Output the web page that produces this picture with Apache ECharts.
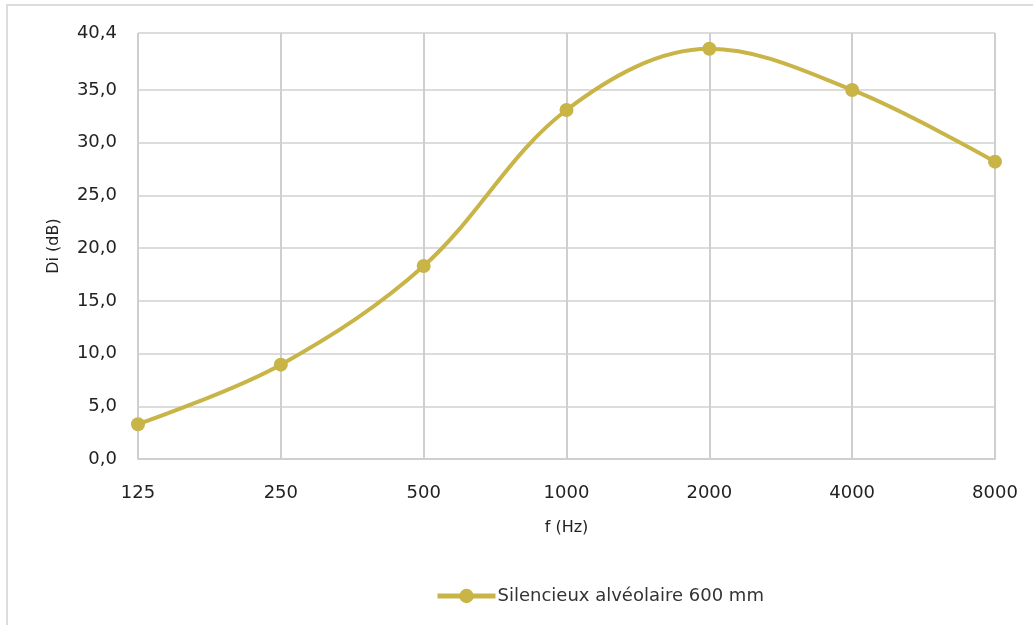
<!DOCTYPE html>
<html>
<head>
<meta charset="utf-8">
<script src="https://cdn.jsdelivr.net/npm/echarts@6/dist/echarts.min.js"></script>
<style>
  html, body { margin: 0; padding: 0; background: #fff; }
  #chart { width: 1033px; height: 625px; }
</style>
</head>
<body>
<div id="chart"></div>
<script>
// fréquences (Hz) et valeurs Di (dB)
const frequencies = ["125", "250", "500", "1000", "2000", "4000", "8000"];
const diValues = [3.3, 8.95, 18.3, 33.1, 38.9, 35.0, 28.2];
const yTicks = [0, 5, 10, 15, 20, 25, 30, 35, 40.4];
const seriesName = "Silencieux alvéolaire 600 mm";

const gold = "#c8b447";
const font = "DejaVu Sans";

const chart = echarts.init(document.getElementById("chart"));

chart.setOption({
  animation: false,
  textStyle: { fontFamily: font },
  graphic: [
    {
      type: "rect",
      shape: { x: 7, y: 5, width: 1100, height: 700 },
      style: { fill: "none", stroke: "#dcdcdc", lineWidth: 2 },
    },
  ],
  grid: {
    left: 138,
    right: 38,
    top: 33,
    bottom: 166,
  },
  legend: {
    left: 430,
    top: 582,
    itemWidth: 58,
    itemHeight: 18,
    itemGap: 10,
    textStyle: { fontSize: 18, color: "#333", fontFamily: font, padding: [0, 0, 0, -3] },
    lineStyle: { width: 5 },
    data: [seriesName],
  },
  xAxis: {
    type: "category",
    data: frequencies,
    boundaryGap: false,
    name: "f (Hz)",
    nameLocation: "middle",
    nameGap: 61,
    nameTextStyle: { fontSize: 16, color: "#222" },
    axisLine: { lineStyle: { color: "#cfcfcf", width: 2 } },
    axisTick: { show: false },
    axisLabel: { fontSize: 18, color: "#222", margin: 25 },
    splitLine: { show: true, lineStyle: { color: "#cfcfcf", width: 2 } },
  },
  yAxis: {
    type: "value",
    min: 0,
    max: 40.4,
    interval: 5,
    name: "Di (dB)",
    nameLocation: "middle",
    nameGap: 76,
    nameTextStyle: { fontSize: 16, color: "#222" },
    axisLine: { show: false },
    axisTick: { show: false, customValues: yTicks },
    axisLabel: {
      fontSize: 18,
      color: "#222",
      margin: 21,
      customValues: yTicks,
      formatter: (v) => v.toFixed(1).replace(".", ","),
    },
    splitLine: { show: true, lineStyle: { color: "#dcdcdc", width: 2 } },
  },
  series: [
    {
      name: seriesName,
      type: "line",
      data: diValues,
      smooth: 0.35,
      symbol: "circle",
      symbolSize: 14,
      lineStyle: { color: gold, width: 4 },
      itemStyle: { color: gold },
    },
  ],
});
</script>
</body>
</html>
